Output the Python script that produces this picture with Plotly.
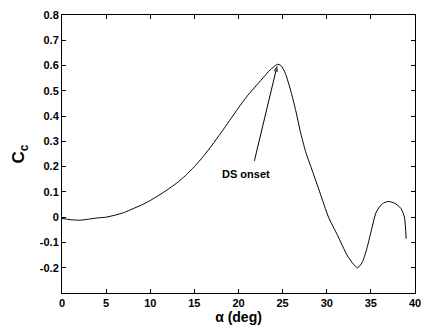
import plotly.graph_objects as go

# Chordwise force coefficient versus angle of attack
alpha = [0, 1, 2, 3, 4, 5, 6, 7, 8, 9, 10, 11, 12, 13, 14, 15, 16, 17, 18, 19,
         20, 21, 22, 23, 23.5, 24, 24.4, 24.8, 25.3, 26, 26.5, 27, 27.6, 28.4,
         29.2, 30.2, 31.2, 32.3, 33, 33.5, 34, 34.5, 35, 35.6, 36.2, 36.7, 37.1,
         37.7, 38.4, 38.8, 39.0]
cc = [-0.005, -0.01, -0.012, -0.008, -0.003, 0.0, 0.008, 0.018, 0.033, 0.048,
      0.066, 0.087, 0.11, 0.135, 0.165, 0.2, 0.24, 0.285, 0.333, 0.383, 0.433,
      0.48, 0.52, 0.56, 0.58, 0.595, 0.605, 0.60, 0.57, 0.49, 0.42, 0.34, 0.26,
      0.18, 0.10, 0.0, -0.07, -0.15, -0.185, -0.20, -0.18, -0.13, -0.06, 0.02,
      0.05, 0.06, 0.062, 0.055, 0.035, 0.0, -0.085]

x_ticks = [0, 5, 10, 15, 20, 25, 30, 35, 40]
y_ticks = [-0.2, -0.1, 0, 0.1, 0.2, 0.3, 0.4, 0.5, 0.6, 0.7, 0.8]
y_tick_text = ["-0.2", "-0.1", "0", "0.1", "0.2", "0.3", "0.4", "0.5", "0.6", "0.7", "0.8"]

# dynamic stall onset marker: arrow from the label towards the peak
arrow_alpha = [21.8, 24.4]
arrow_cc = [0.223, 0.602]
label_alpha, label_cc = 20.8, 0.172

font = "Liberation Sans, Arial, sans-serif"

fig = go.Figure()
fig.add_trace(go.Scatter(x=alpha, y=cc, mode="lines",
                         line=dict(color="black", width=1, shape="spline", smoothing=0.6),
                         showlegend=False, hoverinfo="skip"))
fig.add_trace(go.Scatter(x=arrow_alpha, y=arrow_cc, mode="lines+markers",
                         line=dict(color="black", width=1),
                         marker=dict(symbol="arrow", size=[0, 7], angleref="previous",
                                     color="black", line=dict(width=0)),
                         showlegend=False, hoverinfo="skip"))

axis_common = dict(showline=True, linecolor="black", linewidth=1, mirror="ticks",
                   ticks="inside", ticklen=4, tickcolor="black", tickwidth=1,
                   showgrid=False, zeroline=False,
                   tickfont=dict(family=font, size=11, color="black", weight="bold"))

fig.update_xaxes(range=[0, 40], tickvals=x_ticks,
                 title=dict(text="α (deg)", font=dict(family=font, size=14, color="black", weight="bold"),
                            standoff=2),
                 **axis_common)
fig.update_yaxes(range=[-0.3, 0.8], tickvals=y_ticks, ticktext=y_tick_text,
                 title=dict(text="C<sub>c</sub>", font=dict(family=font, size=17, color="black", weight="bold"),
                            standoff=10),
                 **axis_common)

fig.add_annotation(x=label_alpha, y=label_cc, xref="x", yref="y", text="DS onset",
                   showarrow=False, font=dict(family=font, size=11, color="black", weight="bold"))

fig.update_layout(width=430, height=331, margin=dict(l=62, r=9, t=12, b=38),
                  paper_bgcolor="white", plot_bgcolor="white")

fig.write_html("out.html")
